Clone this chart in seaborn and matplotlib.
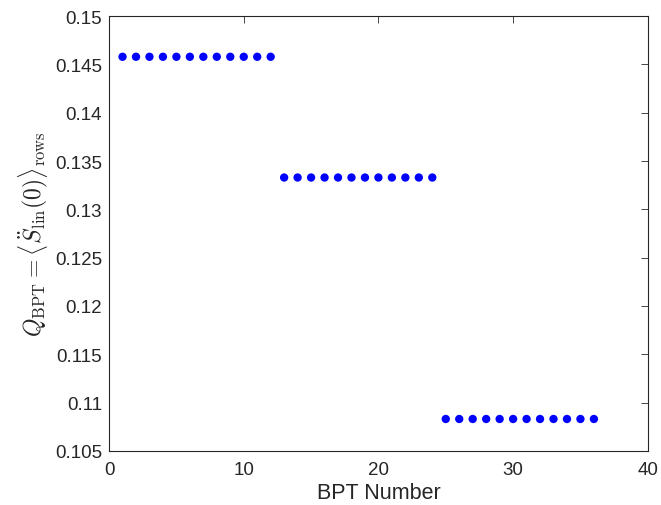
import numpy as np
import pandas as pd
import matplotlib
matplotlib.use("Agg")
import matplotlib.pyplot as plt
import seaborn as sns

# -- data
bpt_number = list(range(1, 37))
q_levels = [0.1458, 0.1333, 0.1083]
q_bpt = [q_levels[0]] * 12 + [q_levels[1]] * 12 + [q_levels[2]] * 12
y_ticks = [0.105, 0.11, 0.115, 0.12, 0.125, 0.13, 0.135, 0.14, 0.145, 0.15]
y_tick_labels = ["0.105", "0.11", "0.115", "0.12", "0.125",
                 "0.13", "0.135", "0.14", "0.145", "0.15"]
x_ticks = [0, 10, 20, 30, 40]

df = pd.DataFrame({"BPT": bpt_number, "Q": q_bpt})

sns.set_style("white")
plt.rcParams["font.family"] = ["Liberation Sans", "DejaVu Sans"]
plt.rcParams["mathtext.fontset"] = "cm"

fig = plt.figure(figsize=(6.61, 5.06), dpi=100)
ax = fig.add_axes([0.165, 0.107, 0.815, 0.859])

sns.scatterplot(data=df, x="BPT", y="Q", ax=ax, color="#0000ff",
                s=36, edgecolor="none", legend=False)

ax.set_xlim(0, 40)
ax.set_ylim(0.105, 0.15)
ax.set_xticks(x_ticks)
ax.set_yticks(y_ticks)
ax.set_yticklabels(y_tick_labels)
ax.tick_params(direction="in", length=5, width=0.6, labelsize=13.5,
               colors="#262626", top=True, right=True)
ax.tick_params(axis="x", pad=7)
ax.tick_params(axis="y", pad=5)
for sp in ax.spines.values():
    sp.set_linewidth(0.8)
    sp.set_color("#262626")

ax.set_xlabel("BPT Number", fontsize=15.5, color="#262626", labelpad=3)
ax.set_ylabel(r"$Q_{\rm BPT} = \left\langle \ddot{S}_{\rm lin}(0) \right\rangle_{\rm rows}$",
              fontsize=17, color="#262626", labelpad=3)

fig.savefig("out.png", dpi=100)
